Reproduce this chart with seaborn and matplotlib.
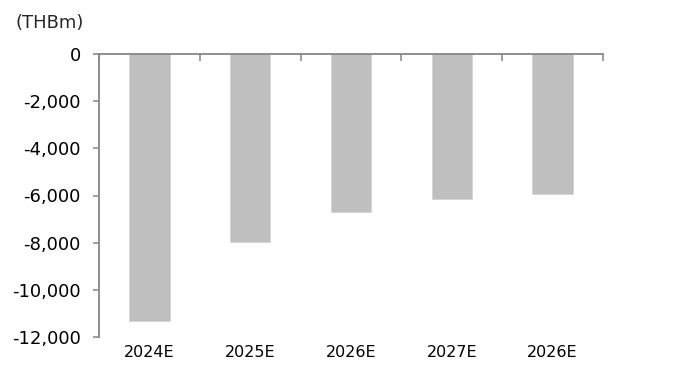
import matplotlib
matplotlib.use("Agg")
import matplotlib.pyplot as plt
import seaborn as sns
import pandas as pd
from matplotlib.ticker import FuncFormatter, FixedLocator

# Forecast values (THB million)
periods = ["2024E", "2025E", "2026E", "2027E", "2026E"]
values = [-11310, -7990, -6720, -6150, -5950]
y_ticks = [0, -2000, -4000, -6000, -8000, -10000, -12000]

sns.set_style("white")
plt.rcParams["font.family"] = ["DejaVu Sans"]

df = pd.DataFrame({"pos": list(range(len(periods))), "value": values})

fig = plt.figure(figsize=(6.97, 3.65), dpi=100)
ax = fig.add_axes([99 / 697, 1 - 337 / 365, (603 - 99) / 697, (337 - 54) / 365])

sns.barplot(data=df, x="pos", y="value", color="#bfbfbf", saturation=1,
            width=0.4, errorbar=None, edgecolor="#d4d4d4", linewidth=0.6, ax=ax)

axis_grey = "#868686"
ax.set_xlim(-0.5, len(periods) - 0.5)
ax.set_ylim(-12000, 0)
ax.set_xlabel("")
ax.set_ylabel("")

# spines: left axis and the zero line at the top
for side in ["right", "bottom"]:
    ax.spines[side].set_visible(False)
for side in ["left", "top"]:
    ax.spines[side].set_visible(True)
    ax.spines[side].set_color(axis_grey)
    ax.spines[side].set_linewidth(1.3)

ax.set_yticks(y_ticks)
ax.yaxis.set_major_formatter(FuncFormatter(lambda v, p: f"{int(v):,}"))
ax.tick_params(axis="y", which="major", direction="out", length=4, width=1.1,
               color=axis_grey, pad=9, labelsize=13, labelcolor="black", left=True)

# category labels below the plot, boundary ticks hanging from the zero line
ax.set_xticks(range(len(periods)))
ax.set_xticklabels(periods)
ax.tick_params(axis="x", which="major", length=0, pad=6, labelsize=11.5,
               labelcolor="black", bottom=True, top=False)
ax.xaxis.set_minor_locator(FixedLocator([i - 0.5 for i in range(len(periods) + 1)]))
ax.tick_params(axis="x", which="minor", top=True, bottom=False, direction="in",
               length=5, width=1.1, color=axis_grey)

fig.text(50 / 697, 1 - 23 / 365, "(THBm)", ha="center", va="center", fontsize=13)

fig.savefig("out.png", dpi=100)
